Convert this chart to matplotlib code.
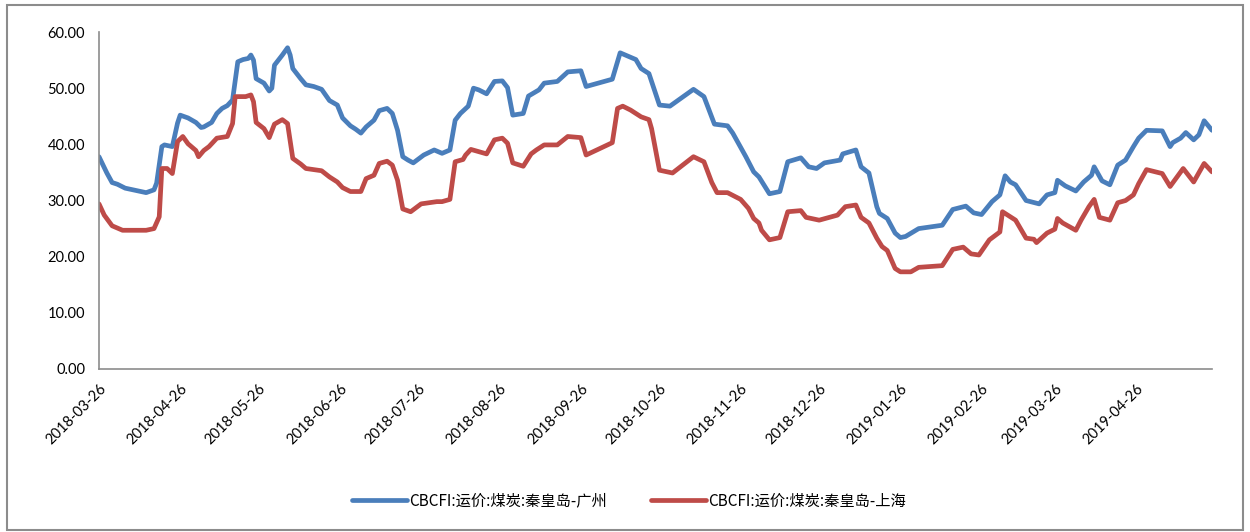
import datetime as dt
import matplotlib
matplotlib.use("Agg")
import matplotlib.pyplot as plt
import matplotlib.dates as mdates
from matplotlib.patches import Rectangle

start_date = dt.date(2018, 3, 26)

# days after 2018-03-26 and freight rate, 秦皇岛-广州
gz_days = [0, 3, 5, 7, 10, 15, 18, 21, 22, 24, 25, 28, 30, 31, 34, 37, 39, 40, 43, 45,
           47, 49, 51, 53, 55, 57, 58, 59, 60, 63, 65, 66, 67, 70, 72, 73, 74, 77, 79, 82,
           85, 88, 91, 93, 96, 98, 100, 102, 105, 107, 110, 112, 114, 116, 118, 120, 124, 128, 131, 134,
           136, 138, 141, 143, 145, 148, 151, 154, 156, 158, 162, 164, 168, 170, 175, 179, 184, 186, 196, 199,
           202, 205, 207, 210, 214, 218, 227, 231, 235, 240, 242, 247, 250, 252, 256, 260, 263, 268, 271, 274,
           277, 283, 284, 289, 291, 294, 297, 298, 301, 304, 306, 308, 313, 322, 326, 331, 334, 337, 341, 344,
           346, 348, 350, 354, 359, 362, 365, 366, 369, 373, 376, 379, 380, 383, 386, 389, 392, 395, 397, 400,
           406, 409, 410, 413, 415, 418, 420, 422, 425]
gz_rate = [37.8, 34.9, 33.2, 32.9, 32.2, 31.7, 31.4, 31.9, 33.1, 39.6, 39.9, 39.6, 43.8, 45.2, 44.7, 43.9, 43.0, 43.1, 43.9, 45.5,
           46.4, 46.9, 47.9, 54.7, 55.1, 55.3, 55.9, 55.0, 51.7, 50.9, 49.5, 50.0, 54.1, 55.9, 57.2, 55.9, 53.5, 51.7, 50.6, 50.3,
           49.8, 47.8, 47.0, 44.7, 43.3, 42.7, 42.0, 43.1, 44.3, 46.0, 46.4, 45.5, 42.5, 37.8, 37.2, 36.7, 38.1, 39.0, 38.4, 39.0,
           44.3, 45.5, 46.8, 50.0, 49.7, 49.0, 51.2, 51.3, 50.1, 45.2, 45.5, 48.6, 49.7, 50.9, 51.2, 52.9, 53.1, 50.3, 51.6, 56.3,
           55.7, 55.1, 53.5, 52.6, 47.0, 46.8, 49.8, 48.5, 43.6, 43.3, 42.0, 37.8, 35.1, 34.2, 31.2, 31.6, 36.9, 37.6, 36.0, 35.7,
           36.7, 37.2, 38.3, 39.0, 36.0, 34.9, 28.9, 27.7, 26.8, 24.2, 23.4, 23.6, 25.0, 25.6, 28.4, 29.0, 27.8, 27.5, 29.8, 31.0,
           34.4, 33.3, 32.8, 30.0, 29.4, 31.0, 31.4, 33.6, 32.6, 31.7, 33.3, 34.5, 36.0, 33.5, 32.8, 36.3, 37.2, 39.6, 41.1, 42.5,
           42.4, 39.6, 40.3, 41.1, 42.1, 40.8, 41.7, 44.2, 42.5]

# days after 2018-03-26 and freight rate, 秦皇岛-上海
sh_days = [0, 2, 5, 9, 18, 21, 23, 24, 26, 28, 30, 32, 34, 37, 38, 40, 42, 45, 49, 51,
           52, 56, 58, 59, 60, 63, 65, 67, 70, 72, 74, 77, 79, 85, 88, 91, 93, 96, 100, 102,
           105, 107, 110, 112, 114, 116, 119, 123, 129, 131, 134, 136, 139, 140, 142, 145, 148, 151, 154, 156,
           158, 162, 165, 167, 170, 175, 179, 184, 186, 196, 198, 200, 203, 207, 210, 211, 214, 219, 227, 231,
           234, 236, 240, 245, 248, 250, 252, 253, 256, 260, 263, 268, 270, 275, 282, 285, 289, 291, 294, 297,
           299, 301, 304, 306, 310, 313, 322, 326, 330, 333, 336, 340, 344, 345, 350, 354, 357, 358, 362, 365,
           366, 368, 373, 375, 378, 380, 382, 386, 389, 392, 395, 397, 400, 406, 409, 414, 418, 422, 425]
sh_rate = [29.4, 27.4, 25.5, 24.7, 24.7, 25.0, 27.1, 35.7, 35.7, 34.8, 40.5, 41.4, 40.1, 38.9, 37.8, 38.9, 39.6, 41.1, 41.4, 43.7,
           48.5, 48.5, 48.8, 47.6, 43.9, 42.8, 41.2, 43.6, 44.4, 43.7, 37.5, 36.5, 35.7, 35.3, 34.2, 33.3, 32.3, 31.6, 31.6, 33.9,
           34.5, 36.6, 37.0, 36.3, 33.6, 28.5, 28.0, 29.4, 29.8, 29.8, 30.2, 36.9, 37.3, 38.1, 39.1, 38.7, 38.3, 40.8, 41.1, 40.2,
           36.7, 36.1, 38.3, 39.0, 39.9, 39.9, 41.4, 41.2, 38.1, 40.3, 46.4, 46.8, 46.1, 44.9, 44.4, 42.8, 35.4, 34.9, 37.8, 36.9,
           33.2, 31.4, 31.4, 30.2, 28.6, 26.8, 26.0, 24.7, 23.0, 23.4, 28.0, 28.2, 27.0, 26.5, 27.4, 28.9, 29.2, 27.0, 26.0, 23.3,
           21.8, 21.1, 17.9, 17.3, 17.3, 18.1, 18.4, 21.3, 21.7, 20.5, 20.3, 23.0, 24.4, 28.0, 26.5, 23.3, 23.1, 22.5, 24.2, 24.9,
           26.8, 26.0, 24.7, 26.5, 28.9, 30.2, 27.0, 26.5, 29.6, 30.0, 31.0, 33.0, 35.5, 34.8, 32.5, 35.7, 33.3, 36.6, 35.1]

series_names = ["CBCFI:运价:煤炭:秦皇岛-广州", "CBCFI:运价:煤炭:秦皇岛-上海"]
series_colors = ["#4A7EBB", "#BE4B48"]

tick_dates = [dt.date(2018 + (2 + i) // 12, (2 + i) % 12 + 1, 26) for i in range(14)]


def to_dates(days):
    return [start_date + dt.timedelta(days=d) for d in days]


plt.rcParams["font.family"] = ["Lato", "Noto Sans CJK SC", "DejaVu Sans"]

fig = plt.figure(figsize=(12.5, 5.32), dpi=100)
ax = fig.add_axes([0.0792, 0.3064, 0.8904, 0.6334])

ax.plot(to_dates(gz_days), gz_rate, color=series_colors[0], linewidth=3.4,
        solid_joinstyle="round", solid_capstyle="round", label=series_names[0])
ax.plot(to_dates(sh_days), sh_rate, color=series_colors[1], linewidth=3.4,
        solid_joinstyle="round", solid_capstyle="round", label=series_names[1])

ax.set_ylim(0, 60)
ax.set_yticks(range(0, 61, 10))
ax.yaxis.set_major_formatter(matplotlib.ticker.FormatStrFormatter("%.2f"))
ax.set_xlim(start_date, start_date + dt.timedelta(days=425))
ax.set_xticks(tick_dates)
ax.xaxis.set_major_formatter(mdates.DateFormatter("%Y-%m-%d"))
ax.tick_params(axis="both", length=0, labelsize=10.5, colors="black")
ax.tick_params(axis="y", pad=10)
ax.tick_params(axis="x", pad=9)
for label in ax.get_xticklabels():
    label.set_rotation(45)
    label.set_ha("right")
    label.set_rotation_mode("anchor")

for side in ["top", "right"]:
    ax.spines[side].set_visible(False)
for side in ["left", "bottom"]:
    ax.spines[side].set_color("#8c8c8c")
    ax.spines[side].set_linewidth(1.2)

fig.legend(loc="center", bbox_to_anchor=(0.503, 0.058), ncol=2, frameon=False,
           handlelength=3.6, columnspacing=2.9, handletextpad=0.15,
           prop={"family": ["Noto Sans CJK SC", "DejaVu Sans"], "size": 11})

fig.add_artist(Rectangle((0.0056, 0.004), 0.9888, 0.9866, transform=fig.transFigure,
                         fill=False, edgecolor="#8c8c8c", linewidth=1.5))

fig.savefig("out.png", dpi=100)
